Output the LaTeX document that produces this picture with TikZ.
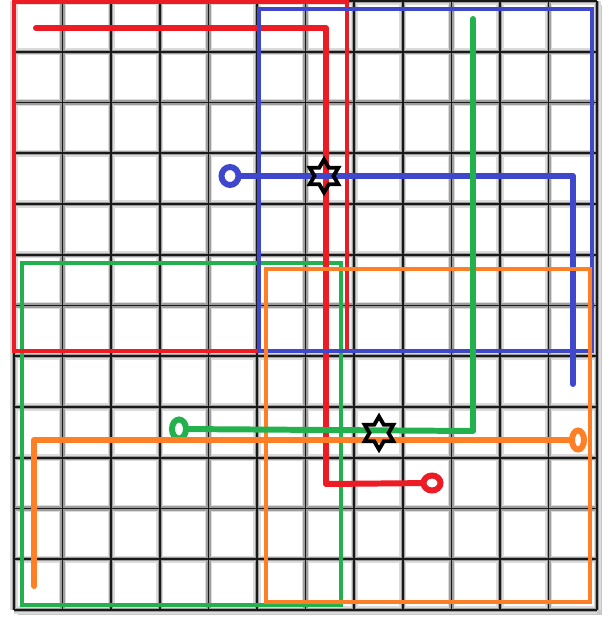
\documentclass[tikz,border=0pt]{standalone}
\usepackage{tikz}
\usetikzlibrary{shapes.geometric,positioning}

\definecolor{pRed}{RGB}{237,28,36}
\definecolor{pBlue}{RGB}{63,72,204}
\definecolor{pGreen}{RGB}{34,177,76}
\definecolor{pOrange}{RGB}{255,127,39}

\begin{document}
\begin{tikzpicture}[
  x=0.02cm, y=-0.02cm,
  halo/.style={draw=black!14,line width=4.2pt},
  midhalo/.style={draw=black!38,line width=2.4pt},
  gridline/.style={draw=black!90,line width=1pt},
  zone/.style={draw,line width=2.2pt},
  route/.style={draw,line width=3.4pt,line cap=round,line join=round},
  port/.style={draw,ellipse,line width=3.4pt,inner sep=0pt},
  cross/.style={draw=black,star,star points=6,star point ratio=1.73,
                line width=2.2pt,inner sep=0pt,minimum size=0.66cm}
]
\useasboundingbox (0,0) rectangle (608,621);

% sheet with its shadow, then the blurred grid
\fill[black!22] (18,5) rectangle (602,615);
\fill[white] (14,1) rectangle (597,610);
\foreach \i in {0,...,12} {
  \draw[halo] ({14+48.6*\i},1) -- ({14+48.6*\i},610);
  \draw[halo] (14,{1+50.75*\i}) -- (597,{1+50.75*\i});
}
\foreach \i in {0,...,12} {
  \draw[midhalo] ({14+48.6*\i},1) -- ({14+48.6*\i},610);
  \draw[midhalo] (14,{1+50.75*\i}) -- (597,{1+50.75*\i});
}
\foreach \i in {0,...,12} {
  \draw[gridline] ({14+48.6*\i},1) -- ({14+48.6*\i},610);
  \draw[gridline] (14,{1+50.75*\i}) -- (597,{1+50.75*\i});
}

% zones
\draw[zone,pGreen] (22,263) rectangle (341,605);
\draw[zone,pRed]   (14,2)   rectangle (347,351);

% red route
\coordinate (rA) at (36,28);
\coordinate (rB) at (326,28);
\coordinate (rC) at (326,484);
\node[port,draw=pRed,minimum width=0.34cm,minimum height=0.30cm] (rEnd) at (432,483) {};
\draw[route,pRed] (rA) -- (rB) -- (rC) -- (rEnd);

\draw[zone,pBlue] (259,9) rectangle (592,351);

% blue route
\node[port,draw=pBlue,minimum width=0.34cm,minimum height=0.36cm] (bEnd) at (230,176) {};
\coordinate (bB) at (573,176);
\coordinate (bC) at (573,384);
\draw[route,pBlue] (bEnd) -- (bB) -- (bC);

\draw[zone,pOrange] (266,269) rectangle (590,602);

% green route
\coordinate (gA) at (473,19);
\coordinate (gB) at (473,431);
\node[port,draw=pGreen,minimum width=0.28cm,minimum height=0.38cm] (gEnd) at (179,429) {};
\draw[route,pGreen] (gA) -- (gB) -- (gEnd);

% orange route
\node[port,draw=pOrange,minimum width=0.24cm,minimum height=0.38cm] (oEnd) at (578,440) {};
\coordinate (oB) at (34,440);
\coordinate (oC) at (34,586);
\draw[route,pOrange] (oEnd) -- (oB) -- (oC);

% crossings
\node[cross] (x1) at (324,176) {};
\node[cross] (x2) at (379,433) {};
\end{tikzpicture}
\end{document}
